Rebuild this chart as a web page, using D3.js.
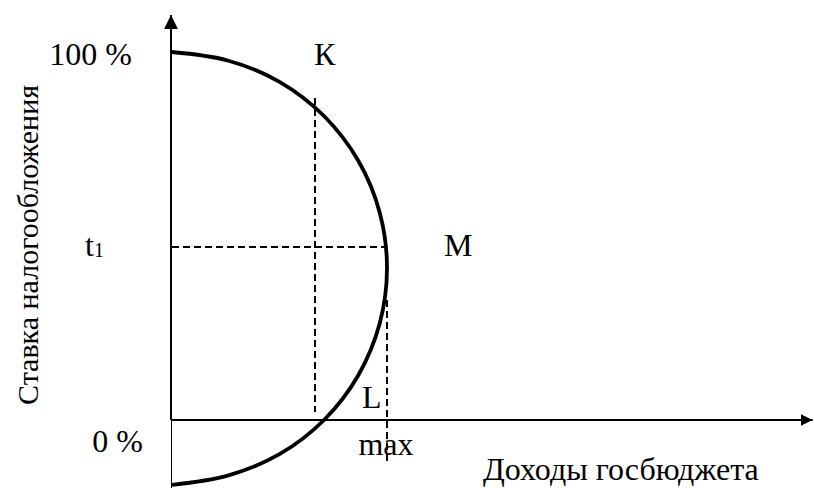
<!DOCTYPE html>
<html>
<head>
<meta charset="utf-8">
<script src="https://cdn.jsdelivr.net/npm/d3@7"></script>
<style>
html,body{margin:0;padding:0;background:#fff;}
svg{display:block;}
text{font-family:"Liberation Serif","Times New Roman",serif;fill:#000;}
</style>
</head>
<body>
<svg id="chart" width="814" height="488"></svg>
<script>
// Curve (Laffer-type) points: revenue (max = 100) vs tax rate (%)
const curveRevenue = [0, 25.9, 50, 70.7, 86.6, 96.6, 100, 96.6, 86.6, 70.7, 50, 25.9, 0];
const curveRate    = [100, 97.7, 91.9, 82.6, 70.5, 56.4, 41.3, 26.2, 12.1, 0, -9.3, -15.1, -17.6];

// Reference points
const pointK = {revenue: 66.5, rateTop: 87.5, rateBottom: 2.2};
const rateT1 = 47;
const revenueMax = 100;
const maxLine = {rateTop: 32.6, rateBottom: -11.7};

// Axis extents
const xAxisEnd = 298;
const yAxisTop = 110.3;
const yAxisBottom = -18.5;

// Tick / labels
const yTickLabels = ["100 %", "0 %"];
const yTickValues = [100, 0];
const xTickLabel = "max";
const pointLabels = ["К", "M", "L"];
const yTitle = "Ставка налогообложения";
const xTitle = "Доходы госбюджета";

const svg = d3.select("#chart");
const x = d3.scaleLinear().domain([0, 100]).range([172, 387]);
const y = d3.scaleLinear().domain([0, 100]).range([420, 52]);
const FONT = "'Liberation Serif','Times New Roman',serif";

const defs = svg.append("defs");
defs.append("marker").attr("id","arrUp").attr("viewBox","0 0 10 10")
  .attr("refX",5).attr("refY",0).attr("markerWidth",15).attr("markerHeight",14)
  .attr("markerUnits","userSpaceOnUse").attr("orient","0")
  .append("path").attr("d","M0,10 L5,0 L10,10 Z").attr("fill","#000");
defs.append("marker").attr("id","arrRight").attr("viewBox","0 0 10 10")
  .attr("refX",10).attr("refY",5).attr("markerWidth",12).attr("markerHeight",13)
  .attr("markerUnits","userSpaceOnUse").attr("orient","0")
  .append("path").attr("d","M0,0 L10,5 L0,10 Z").attr("fill","#000");

// Y axis
svg.append("line").attr("x1",x(0)-1).attr("x2",x(0)-1)
  .attr("y1",y(0)).attr("y2",y(yAxisTop)+1)
  .attr("stroke","#000").attr("stroke-width",2).attr("marker-end","url(#arrUp)");
svg.append("line").attr("x1",x(0)-0.5).attr("x2",x(0)-0.5)
  .attr("y1",y(0)).attr("y2",y(yAxisBottom))
  .attr("stroke","#000").attr("stroke-width",1);

// X axis
svg.append("line").attr("x1",x(0)).attr("x2",x(xAxisEnd))
  .attr("y1",y(0)).attr("y2",y(0))
  .attr("stroke","#000").attr("stroke-width",2).attr("marker-end","url(#arrRight)");

// Dashed guide lines
const dash = "7,4";
svg.append("line").attr("x1",x(pointK.revenue)).attr("x2",x(pointK.revenue))
  .attr("y1",y(pointK.rateTop)).attr("y2",y(pointK.rateBottom))
  .attr("stroke","#000").attr("stroke-width",2).attr("stroke-dasharray",dash);
svg.append("line").attr("x1",x(0)).attr("x2",x(revenueMax))
  .attr("y1",y(rateT1)).attr("y2",y(rateT1))
  .attr("stroke","#000").attr("stroke-width",2).attr("stroke-dasharray",dash);
svg.append("line").attr("x1",x(revenueMax)).attr("x2",x(revenueMax))
  .attr("y1",y(maxLine.rateTop)).attr("y2",y(maxLine.rateBottom))
  .attr("stroke","#000").attr("stroke-width",2).attr("stroke-dasharray",dash);

// Curve
const pts = curveRevenue.map((r,i)=>[r, curveRate[i]]);
const line = d3.line().x(d=>x(d[0])).y(d=>y(d[1])).curve(d3.curveCatmullRom.alpha(0.5));
svg.append("path").attr("d", line(pts)).attr("fill","none")
  .attr("stroke","#000").attr("stroke-width",3.8);

const fs = 32;
function txt(){ return svg.append("text").attr("font-family",FONT).attr("font-size",fs); }
// Y tick labels
txt().attr("x",132).attr("y",y(yTickValues[0])+13).attr("text-anchor","end").text(yTickLabels[0]);
txt().attr("x",143).attr("y",y(yTickValues[1])+32).attr("text-anchor","end").text(yTickLabels[1]);
// t1
const t1 = txt().attr("x",85).attr("y",y(rateT1)+9);
t1.append("tspan").text("t");
t1.append("tspan").attr("font-size",20).attr("dy",1).text("1");

// x tick label
txt().attr("x",x(revenueMax)-1).attr("y",y(0)+35).attr("text-anchor","middle").text(xTickLabel);

// point labels
txt().attr("x",x(pointK.revenue)-1).attr("y",y(100)+13).text(pointLabels[0]);
txt().attr("x",444).attr("y",y(rateT1)+9).text(pointLabels[1]);
txt().attr("x",362).attr("y",y(0)-12).text(pointLabels[2]);

// titles
txt().attr("x",483).attr("y",480).text(xTitle);
txt().attr("font-size",30).attr("transform","translate(38,245) rotate(-90)").attr("text-anchor","middle").text(yTitle);
</script>
</body>
</html>
